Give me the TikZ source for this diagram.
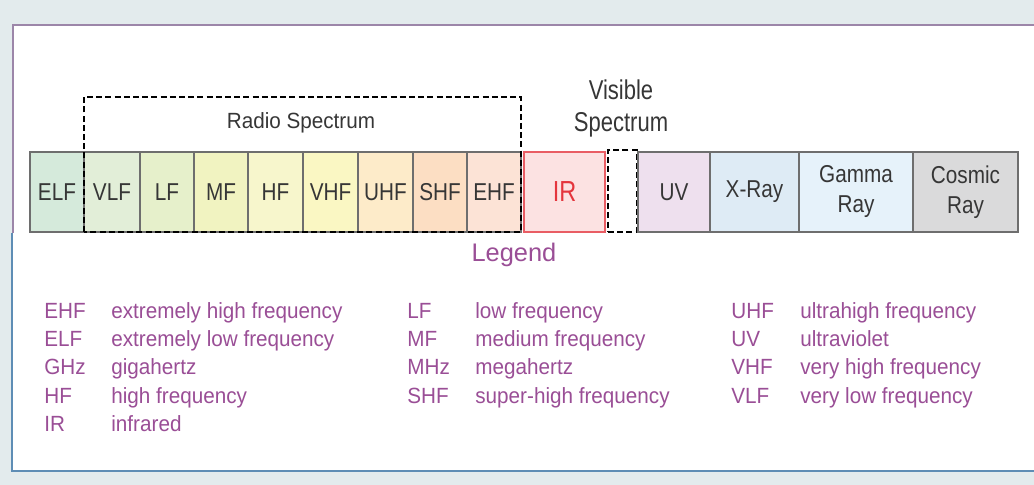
\documentclass[tikz,border=0pt]{standalone}
\usepackage{fontspec}
\setmainfont{Liberation Sans}
\newfontfamily\cellfont[FakeStretch=0.85]{Liberation Sans}
\newfontfamily\legfont[FakeStretch=0.94]{Liberation Sans}
\newfontfamily\visfont[FakeStretch=0.81]{Liberation Sans}
\usetikzlibrary{positioning}

\definecolor{bgpanel}{HTML}{E3EBED}
\definecolor{topline}{HTML}{9C86A9}
\definecolor{botline}{HTML}{5E8DB5}
\definecolor{cellline}{HTML}{6E6E6E}
\definecolor{celltext}{HTML}{363636}
\definecolor{legpurple}{HTML}{9A4E96}
\definecolor{irred}{HTML}{E4353D}
\definecolor{elfc}{HTML}{D5EADB}
\definecolor{vlfc}{HTML}{E2EED8}
\definecolor{lfc}{HTML}{E6F0CB}
\definecolor{mfc}{HTML}{F1F3C1}
\definecolor{hfc}{HTML}{F7F6CC}
\definecolor{vhfc}{HTML}{FAF7C3}
\definecolor{uhfc}{HTML}{FDEBC9}
\definecolor{shfc}{HTML}{FCDEC3}
\definecolor{ehfc}{HTML}{FCE3D6}
\definecolor{irc}{HTML}{FCE2E2}
\definecolor{uvc}{HTML}{EEE0EE}
\definecolor{xrayc}{HTML}{DEEBF5}
\definecolor{gammac}{HTML}{E6F2FA}
\definecolor{cosmicc}{HTML}{DADADB}

\begin{document}
\begin{tikzpicture}[x=0.5pt,y=-0.5pt,
		cell/.style={draw=cellline, line width=0.6pt, minimum height=40pt, inner sep=0pt, outer sep=0pt,
			text=celltext, align=center, font=\cellfont\fontsize{12.2}{15}\selectfont},
		dashbox/.style={draw=black, line width=1pt, dash pattern=on 3pt off 1.6pt},
		legtext/.style={text=legpurple, anchor=base west, inner sep=0pt, font=\legfont\fontsize{11}{12}\selectfont}]
		\useasboundingbox (0,0) rectangle (1034,485);
		% panel
		\fill[bgpanel] (0,0) rectangle (1034,485);
		\fill[white] (13,25) rectangle (1034,471);
		\draw[topline, line width=1.1pt] (1034,25) -- (13,25) -- (13,233);
		\draw[botline, line width=1.1pt] (12,233) -- (12,471) -- (1034,471);
		
		% spectrum bar
		\node[cell, fill=elfc, minimum width=27pt, anchor=north west] (elf) at (30,152) {ELF};
		\node[cell, fill=vlfc, minimum width=28pt, right=0pt of elf] (vlf) {VLF};
		\node[cell, fill=lfc, minimum width=27pt, right=0pt of vlf] (lf) {LF};
		\node[cell, fill=mfc, minimum width=27pt, right=0pt of lf] (mf) {MF};
		\node[cell, fill=hfc, minimum width=27.5pt, right=0pt of mf] (hf) {HF};
		\node[cell, fill=vhfc, minimum width=27.5pt, right=0pt of hf] (vhf) {VHF};
		\node[cell, fill=uhfc, minimum width=27.5pt, right=0pt of vhf] (uhf) {UHF};
		\node[cell, fill=shfc, minimum width=27pt, right=0pt of uhf] (shf) {SHF};
		\node[cell, fill=ehfc, minimum width=27pt, right=0pt of shf] (ehf) {EHF};
		\node[cell, draw=irred!80, fill=irc, text=irred, minimum width=40.5pt, right=1.5pt of ehf,
			font=\visfont\fontsize{14.5}{15}\selectfont] (ir) {IR};
		\node[cell, dashbox, fill=white, minimum width=14.5pt, minimum height=41pt, right=1.5pt of ir, yshift=0.5pt] (vis) {};
		\node[cell, fill=uvc, minimum width=36pt, right=0.5pt of vis, yshift=-0.5pt] (uv) {UV};
		\node[cell, fill=xrayc, minimum width=44.5pt, right=0pt of uv] (xray) {X-Ray};
		\node[cell, fill=gammac, minimum width=57pt, right=0pt of xray] (gamma) {Gamma\\Ray};
		\node[cell, fill=cosmicc, minimum width=52.5pt, right=0pt of gamma] (cosmic) {Cosmic\\Ray};
		
		% groups
		\draw[dashbox] (vlf.south west) rectangle ([yshift=27.5pt]ehf.north east);
		\node[text=celltext, font=\legfont\fontsize{11}{12}\selectfont] (radio) at (301,123) {Radio Spectrum};
		\node[text=celltext, align=center, font=\visfont\fontsize{13.6}{16}\selectfont] (visible) at (621,108) {Visible\\Spectrum};
		
		% legend
		\node[text=legpurple, anchor=base, font=\fontsize{12.7}{14}\selectfont] (legend) at (514,262) {Legend};
		\foreach \abbr/\desc [count=\i] in {EHF/extremely high frequency, ELF/extremely low frequency,
			GHz/gigahertz, HF/high frequency, IR/infrared} {
			\node[legtext] (keyA\i) at (44,290+28.3*\i) {\abbr};
			\node[legtext] (descA\i) at (111,290+28.3*\i) {\desc};
		}
		\foreach \abbr/\desc [count=\i] in {LF/low frequency, MF/medium frequency,
			MHz/megahertz, SHF/super-high frequency} {
			\node[legtext] (keyB\i) at (407,290+28.3*\i) {\abbr};
			\node[legtext] (descB\i) at (475,290+28.3*\i) {\desc};
		}
		\foreach \abbr/\desc [count=\i] in {UHF/ultrahigh frequency, UV/ultraviolet,
			VHF/very high frequency, VLF/very low frequency} {
			\node[legtext] (keyC\i) at (731,290+28.3*\i) {\abbr};
			\node[legtext] (descC\i) at (800,290+28.3*\i) {\desc};
		}
	\end{tikzpicture}
\end{document}
